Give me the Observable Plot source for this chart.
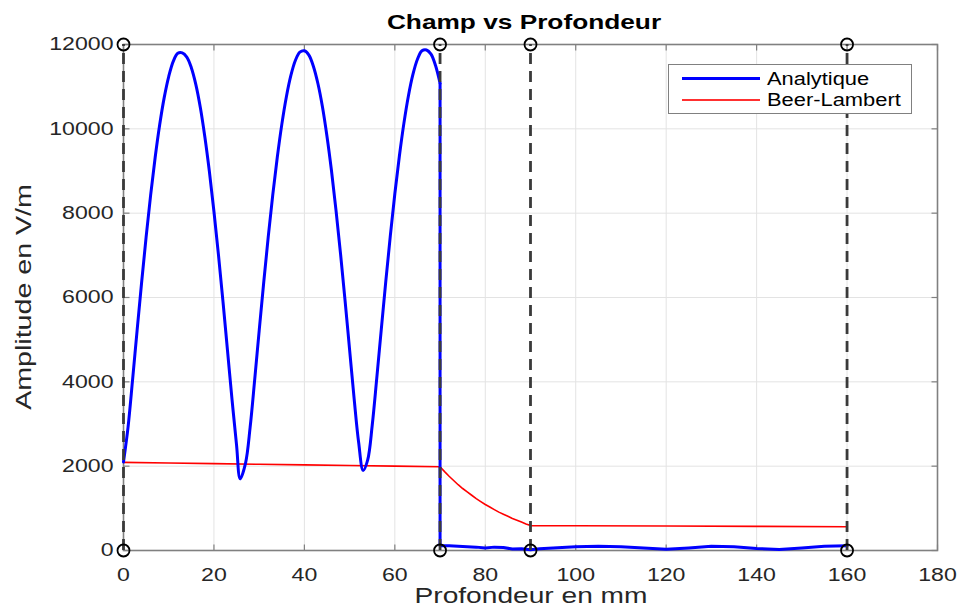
<!DOCTYPE html>
<html>
<head>
<meta charset="utf-8">
<script src="https://cdn.jsdelivr.net/npm/d3@7"></script>
<script src="https://cdn.jsdelivr.net/npm/@observablehq/plot@0.6"></script>
<style>
  html, body { margin: 0; padding: 0; background: #fff; }
  #wrap { position: relative; width: 959px; height: 608px; font-family: "Liberation Sans", Arial, sans-serif; color: #262626; }
  #chart { position: absolute; left: 0; top: 0; }
  .lbl { position: absolute; white-space: nowrap; }
  #title { left: 524px; top: 10px; font-size: 21px; font-weight: bold; color: #000; transform: translateX(-50%) scaleX(1.25); }
  #xlabel { left: 531px; top: 583px; font-size: 22.5px; transform: translateX(-50%) scaleX(1.25); }
  #ylabel { left: 24px; top: 297px; font-size: 22px; transform: translate(-50%, -50%) rotate(-90deg) scaleX(1.3); }
  #legend { position: absolute; left: 668px; top: 64px; width: 244px; height: 50px; border: 1.5px solid #808080; background: #fff; box-sizing: border-box; }
  .lline { position: absolute; left: 13px; width: 78px; }
  .ltext { position: absolute; left: 98px; font-size: 17.5px; transform-origin: left center; transform: translateY(-50%) scaleX(1.25); color: #000; }
</style>
</head>
<body>
<div id="wrap">
  <div id="chart"></div>
  <div id="title" class="lbl">Champ vs Profondeur</div>
  <div id="xlabel" class="lbl">Profondeur en mm</div>
  <div id="ylabel" class="lbl">Amplitude en V/m</div>
  <div id="legend">
    <div class="lline" style="top:12px;height:3px;background:#0000ff"></div>
    <div class="ltext" style="top:13.5px">Analytique</div>
    <div class="lline" style="top:34px;height:2px;background:#ff3030"></div>
    <div class="ltext" style="top:35px">Beer-Lambert</div>
  </div>
</div>
<script>
// ---- Data ----
const xTicks = [0, 20, 40, 60, 80, 100, 120, 140, 160, 180];
const yTicks = [0, 2000, 4000, 6000, 8000, 10000, 12000];

// Analytique (blue) — first layer, 0 to 70 mm
const analX1 = [0,1,2,3,4,5,6,7,8,9,10,11,12,13,14,15,16,17,18,19,20,21,22,23,24,25,25.8,27,
  28,29,30,31,32,33,34,35,36,37,38,39,40,41,42,43,44,45,46,47,48,49,50,51,52,53,54,
  55,56,57,58,59,60,61,62,63,64,65,66,67,68,69,70];
const analY1 = [2100,2920,4040,5210,6350,7430,8430,9320,10095,10740,11240,11600,11790,11800,11700,11450,11050,10500,9800,8980,8040,7010,5900,4740,3580,2500,1700,2080,
  2920,4040,5210,6350,7430,8430,9320,10100,10750,11260,11620,11820,11850,11750,11480,11070,10520,9820,9000,8060,7030,5920,4760,3600,2560,1900,2150,
  2970,4080,5240,6380,7460,8460,9350,10130,10780,11290,11650,11850,11870,11770,11500,11080];
// Analytique (blue) — beyond 70 mm
const analX2 = [70,70,72,75,78,80,82,84,86,88,90,92,95,100,105,110,115,120,125,130,135,140,145,150,155,160];
const analY2 = [11080,110,110,95,80,60,80,70,35,40,20,40,60,90,100,90,60,30,60,100,90,50,25,60,100,110];

// Beer-Lambert (red)
const blX = [0,10,20,30,40,50,60,70,71,72,73,74,75,76,77,78,79,80,81,82,83,84,85,86,87,88,89,90,100,120,140,160];
const blY = [2090,2075,2060,2045,2030,2015,2000,1985,1870,1760,1660,1560,1470,1390,1310,1230,1160,1090,1030,970,910,860,810,760,720,675,630,590,588,582,572,562];

// Layer boundaries (dashed lines with circle markers)
const bounds = [0, 70, 90, 160];
const boundY = [0, 12000];

const anal1 = analX1.map((x, i) => ({x, y: analY1[i]}));
const anal2 = analX2.map((x, i) => ({x, y: analY2[i]}));
const bl = blX.map((x, i) => ({x, y: blY[i]}));
const markers = bounds.flatMap(b => boundY.map(v => ({x: b, y: v})));

// inward tick glyphs (MATLAB-style ticks inside the box)
const tickLen = 6;
const tickUp = {draw(ctx) { ctx.moveTo(0, 0); ctx.lineTo(0, -tickLen); }};
const tickDown = {draw(ctx) { ctx.moveTo(0, 0); ctx.lineTo(0, tickLen); }};
const tickRight = {draw(ctx) { ctx.moveTo(0, 0); ctx.lineTo(tickLen, 0); }};
const tickLeft = {draw(ctx) { ctx.moveTo(0, 0); ctx.lineTo(-tickLen, 0); }};
const tickStyle = {stroke: "#808080", strokeWidth: 1.2, fill: "none"};

const chart = Plot.plot({
  width: 959,
  height: 608,
  marginLeft: 123,
  marginRight: 22,
  marginTop: 44,
  marginBottom: 58,
  style: {fontFamily: "'Liberation Sans', Arial, sans-serif", color: "#262626", background: "transparent"},
  x: {domain: [0, 180], label: null},
  y: {domain: [0, 12000], label: null},
  marks: [
    Plot.gridX(xTicks, {stroke: "#e3e3e3", strokeOpacity: 1, strokeWidth: 1}),
    Plot.gridY(yTicks, {stroke: "#e3e3e3", strokeOpacity: 1, strokeWidth: 1}),
    Plot.axisX(xTicks, {anchor: "bottom", tickSize: 0, tickPadding: 17, fontSize: 18.5, tickFormat: d => String(d)}),
    Plot.axisY(yTicks, {anchor: "left", tickSize: 0, tickPadding: 10, fontSize: 18.5, tickFormat: d => String(d)}),
    Plot.dot(xTicks, {x: d => d, y: () => 0, symbol: tickUp, ...tickStyle}),
    Plot.dot(xTicks, {x: d => d, y: () => 12000, symbol: tickDown, ...tickStyle}),
    Plot.dot(yTicks, {x: () => 0, y: d => d, symbol: tickRight, ...tickStyle}),
    Plot.dot(yTicks, {x: () => 180, y: d => d, symbol: tickLeft, ...tickStyle}),
    Plot.frame({stroke: "#808080", strokeWidth: 1.6}),
    Plot.line(bl, {x: "x", y: "y", stroke: "#ff0000", strokeWidth: 1.6}),
    Plot.line(anal1, {x: "x", y: "y", stroke: "#0000ff", strokeWidth: 3, curve: "catmull-rom"}),
    Plot.line(anal2, {x: "x", y: "y", stroke: "#0000ff", strokeWidth: 3}),
    Plot.ruleX(bounds, {x: d => d, y1: 0, y2: 12000, stroke: "#3a3a3a", strokeWidth: 2.8, strokeDasharray: "11,7"}),
    Plot.dot(markers, {x: "x", y: "y", r: 6, stroke: "#000", strokeWidth: 1.8, fill: "none"})
  ]
});
document.getElementById("chart").appendChild(chart);
chart.querySelectorAll("text").forEach(t => {
  const tr = t.getAttribute("transform") || "";
  t.setAttribute("transform", tr + " scale(1.25,1)");
});
</script>
</body>
</html>
